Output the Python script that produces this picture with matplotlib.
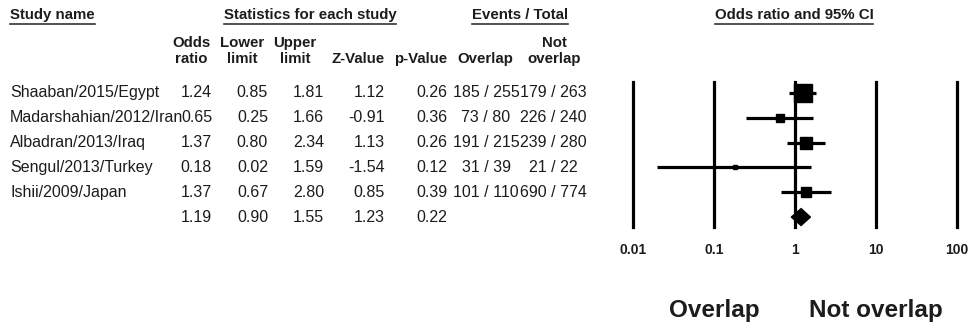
import matplotlib.pyplot as plt
import matplotlib.transforms as mtrans
from matplotlib.lines import Line2D
import numpy as np

plt.rcParams['font.family'] = ['Liberation Sans', 'DejaVu Sans']

studies = ["Shaaban/2015/Egypt", "Madarshahian/2012/Iran", "Albadran/2013/Iraq",
           "Sengul/2013/Turkey", "Ishii/2009/Japan", ""]
odds = [1.24, 0.65, 1.37, 0.18, 1.37, 1.19]
lower = [0.85, 0.25, 0.80, 0.02, 0.67, 0.90]
upper = [1.81, 1.66, 2.34, 1.59, 2.80, 1.55]
zval = ["1.12", "-0.91", "1.13", "-1.54", "0.85", "1.23"]
pval = ["0.26", "0.36", "0.26", "0.12", "0.39", "0.22"]
ev_overlap = ["185 / 255", "73 / 80", "191 / 215", "31 / 39", "101 / 110", ""]
ev_not = ["179 / 263", "226 / 240", "239 / 280", "21 / 22", "690 / 774", ""]
ticks = [0.01, 0.1, 1, 10, 100]
tick_labels = ["0.01", "0.1", "1", "10", "100"]

W, H = 972, 330
fig = plt.figure(figsize=(W / 100, H / 100), dpi=100)

def fx(px):
    return px / W

def fy(py):
    return 1 - py / H

ax = fig.add_axes([fx(633), fy(227), fx(957) - fx(633), (227 - 82) / H])
ax.set_xscale('log')
ax.set_xlim(0.01, 100)
ax.set_ylim(5.4, -0.44)
ax.axis('off')

for t in ticks:
    ax.axvline(t, color='black', lw=2.3, clip_on=False, zorder=1)

# weights from CI width (inverse variance) -> marker area
se = (np.log(upper[:5]) - np.log(lower[:5])) / 3.92
w = 1 / se ** 2
sides = np.maximum(18 * np.sqrt(w / w.max()), 4.5)

for i in range(5):
    ax.plot([lower[i], upper[i]], [i, i], color='black', lw=2.3, zorder=2,
            solid_capstyle='butt')
    ax.plot(odds[i], i, marker='s', ms=sides[i] * 0.72, color='black', zorder=3)

r = 5
h = 0.34
ax.fill([lower[r], odds[r], upper[r], odds[r]], [r, r - h, r, r + h],
        color='black', zorder=3)

txt = '#1c1c1c'
tr_row = mtrans.blended_transform_factory(fig.transFigure, ax.transData)
fs = 11.5
for i in range(6):
    fig.text(fx(10), i, studies[i], transform=tr_row, ha='left', va='center',
             fontsize=fs, color=txt)
    fig.text(fx(212), i, f"{odds[i]:.2f}", transform=tr_row, ha='right', va='center',
             fontsize=fs, color=txt)
    fig.text(fx(268), i, f"{lower[i]:.2f}", transform=tr_row, ha='right', va='center',
             fontsize=fs, color=txt)
    fig.text(fx(324), i, f"{upper[i]:.2f}", transform=tr_row, ha='right', va='center',
             fontsize=fs, color=txt)
    fig.text(fx(385), i, zval[i], transform=tr_row, ha='right', va='center',
             fontsize=fs, color=txt)
    fig.text(fx(447), i, pval[i], transform=tr_row, ha='right', va='center',
             fontsize=fs, color=txt)
    fig.text(fx(486), i, ev_overlap[i], transform=tr_row, ha='center', va='center',
             fontsize=fs, color=txt)
    fig.text(fx(553), i, ev_not[i], transform=tr_row, ha='center', va='center',
             fontsize=fs, color=txt)

# column headers
hfs = 10.8
cols = [(191, "Odds\nratio"), (242, "Lower\nlimit"), (295, "Upper\nlimit"),
        (358, "Z-Value"), (421, "p-Value"), (485, "Overlap"), (554, "Not\noverlap")]
for x, s in cols:
    fig.text(fx(x), fy(63), s, ha='center', va='baseline', multialignment='center',
             fontsize=hfs, fontweight='bold', color=txt, linespacing=1.15)

# group headers with underline
groups = [(10, 'left', "Study name"), (310, 'center', "Statistics for each study"),
          (520, 'center', "Events / Total"), (794, 'center', "Odds ratio and 95% CI")]
fig.canvas.draw()
renderer = fig.canvas.get_renderer()
for x, ha, s in groups:
    t = fig.text(fx(x), fy(19), s, ha=ha, va='baseline', fontsize=hfs,
                 fontweight='bold', color=txt)
    bb = t.get_window_extent(renderer)
    fig.add_artist(Line2D([bb.x0 / W, bb.x1 / W], [fy(23.5), fy(23.5)],
                          transform=fig.transFigure, color='#333333', lw=1.2))

# axis tick labels
tr_tick = mtrans.blended_transform_factory(ax.transData, fig.transFigure)
for t, lab in zip(ticks, tick_labels):
    fig.text(t, fy(250), lab, transform=tr_tick, ha='center', va='center',
             fontsize=10, fontweight='bold', color=txt)

fig.text(0.1, fy(310), "Overlap", transform=tr_tick, ha='center', va='center',
         fontsize=17.5, fontweight='bold', color=txt)
fig.text(10, fy(310), "Not overlap", transform=tr_tick, ha='center', va='center',
         fontsize=17.5, fontweight='bold', color=txt)

fig.savefig('out.png', dpi=100)
